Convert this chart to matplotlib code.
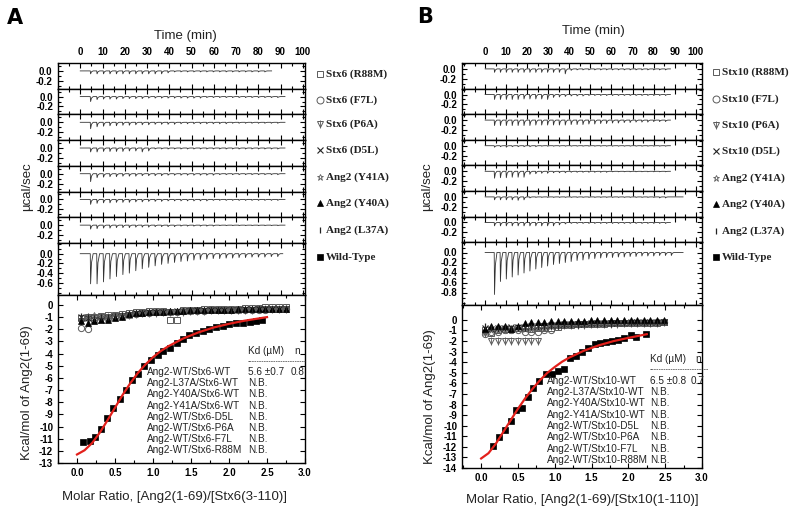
import matplotlib
matplotlib.use('Agg')
from matplotlib import pyplot as plt
from matplotlib.ticker import MultipleLocator

plt.rcParams['font.family'] = ['Liberation Sans', 'DejaVu Sans']
plt.rcParams['axes.unicode_minus'] = False

W, H = 800, 514

# ---------------- raw thermograms: peak depth of each injection (ucal/sec) ----------------
# panel A (Stx6), one list per strip, top to bottom
a_peaks = [
    [-0.06, -0.06, -0.06, -0.06, -0.06, -0.06, -0.06, -0.06, -0.06, -0.06, -0.06, -0.06, -0.04, -0.02,
     -0.02, -0.02, -0.02, -0.02, -0.02, -0.02, -0.02, -0.02, -0.02, -0.02, -0.02, -0.02, -0.02, -0.02],
    [-0.1, -0.06, -0.05, -0.05, -0.05, -0.04, -0.04, -0.04, -0.04, -0.03, -0.03, -0.03, -0.03, -0.03,
     -0.03, -0.03, -0.03, -0.03, -0.02, -0.02, -0.02, -0.02, -0.02, -0.02, -0.02, -0.02, -0.02, -0.02, -0.02, -0.02],
    [-0.13, -0.09, -0.08, -0.07, -0.07, -0.06, -0.06, -0.05, -0.05, -0.05, -0.04, -0.04, -0.04, -0.04,
     -0.03, -0.03, -0.03, -0.03, -0.03, -0.03, -0.03, -0.03, -0.02, -0.02, -0.02, -0.02, -0.02, -0.02, -0.02, -0.02],
    [-0.08, -0.08, -0.07, -0.07, -0.07, -0.07, -0.06, -0.06, -0.08, -0.06, -0.02, -0.02, -0.02, -0.02,
     -0.02, -0.02, -0.02, -0.02, -0.02, -0.02, -0.02, -0.02, -0.02, -0.02, -0.02, -0.02, -0.02, -0.02, -0.02, -0.02],
    [-0.16, -0.08, -0.07, -0.06, -0.06, -0.05, -0.05, -0.05, -0.04, -0.04, -0.04, -0.04, -0.03, -0.03,
     -0.03, -0.03, -0.03, -0.03, -0.03, -0.03, -0.02, -0.02, -0.02, -0.02, -0.02, -0.02, -0.02, -0.02, -0.02, -0.02],
    [-0.1, -0.08, -0.07, -0.07, -0.06, -0.06, -0.06, -0.05, -0.05, -0.04, -0.04, -0.04, -0.03, -0.03,
     -0.03, -0.03, -0.03, -0.03, -0.03, -0.02, -0.02, -0.02, -0.02, -0.02, -0.02, -0.02, -0.02, -0.02, -0.02, -0.02],
    [-0.08, -0.07, -0.06, -0.06, -0.05, -0.05, -0.05, -0.04, -0.04, -0.04, -0.03, -0.03, -0.03, -0.03,
     -0.02, -0.02, -0.02, -0.02, -0.02, -0.02, -0.01, -0.01, -0.01, -0.01, -0.01, -0.01, -0.01, -0.01, -0.01, -0.01],
    [-0.62, -0.62, -0.58, -0.52, -0.47, -0.43, -0.40, -0.35, -0.31, -0.28, -0.25, -0.22, -0.20, -0.18,
     -0.16, -0.15, -0.13, -0.12, -0.11, -0.10, -0.10, -0.09, -0.09, -0.08, -0.08, -0.07, -0.07, -0.07, -0.06, -0.06],
]
a_end = [86, 92, 92, 92, 92, 92, 92, 91]

# panel B (Stx10)
b_peaks = [
    [-0.07, -0.07, -0.07, -0.07, -0.07, -0.07, -0.07, -0.07, -0.07, -0.07, -0.07, -0.07, -0.1, -0.03,
     -0.02, -0.02, -0.02, -0.02, -0.02, -0.02, -0.02, -0.02, -0.02, -0.02, -0.02, -0.02, -0.02, -0.02, -0.02, -0.02],
    [-0.1, -0.1, -0.1, -0.1, -0.1, -0.09, -0.09, -0.09, -0.09, -0.1, -0.06, -0.05, -0.04, -0.03,
     -0.03, -0.03, -0.02, -0.02, -0.02, -0.02, -0.02, -0.02, -0.02, -0.02, -0.02, -0.02, -0.02, -0.02, -0.02, -0.02],
    [-0.11, -0.11, -0.11, -0.11, -0.11, -0.11, -0.11, -0.1, -0.1, -0.1, -0.1, -0.1, -0.1, -0.09,
     -0.09, -0.09, -0.08, -0.08, -0.07, -0.07, -0.06, -0.06, -0.05, -0.05, -0.04, -0.04, -0.04, -0.03, -0.03, -0.03],
    [-0.03, -0.02, -0.03, -0.02, -0.02, -0.02, -0.02, -0.02, -0.01, -0.01, -0.01, -0.01, -0.01, -0.01,
     -0.01, -0.01, -0.01, -0.01, -0.01, -0.01, -0.01, -0.01, -0.01, -0.01, -0.01, -0.01, -0.01, -0.01, -0.01, -0.01],
    [-0.14, -0.13, -0.13, -0.12, -0.12, -0.12, -0.06, -0.05, -0.04, -0.04, -0.03, -0.03, -0.03, -0.02,
     -0.02, -0.02, -0.02, -0.02, -0.02, -0.02, -0.01, -0.01, -0.01, -0.01, -0.01, -0.01, -0.01, -0.01, -0.01, -0.01],
    [-0.06, -0.06, -0.06, -0.06, -0.07, -0.06, -0.02, -0.01, -0.01, -0.01, -0.01, -0.01, -0.01, -0.01,
     -0.01, -0.01, -0.01, -0.01, -0.01, -0.01, -0.01, -0.01, -0.01, -0.01, -0.01, -0.01, -0.01, -0.01, -0.02, -0.02],
    [-0.07, -0.07, -0.07, -0.07, -0.07, -0.07, -0.07, -0.07, -0.07, -0.07, -0.07, -0.05, -0.03, -0.02,
     -0.02, -0.02, -0.02, -0.02, -0.02, -0.02, -0.02, -0.02, -0.02, -0.02, -0.02, -0.02, -0.02, -0.02, -0.02, -0.02],
    [-0.84, -0.58, -0.53, -0.49, -0.45, -0.41, -0.37, -0.33, -0.30, -0.27, -0.24, -0.22, -0.20, -0.18, -0.16,
     -0.15, -0.13, -0.12, -0.11, -0.10, -0.10, -0.09, -0.09, -0.08, -0.08, -0.07, -0.07, -0.07, -0.06, -0.06, -0.06],
]
b_end = [88, 88, 88, 88, 88, 94, 88, 94]

# ---------------- integrated heats ----------------
a_wt_x = [0.08, 0.17, 0.24, 0.32, 0.39, 0.48, 0.56, 0.65, 0.72, 0.80, 0.88, 0.97, 1.06, 1.13, 1.22,
          1.31, 1.40, 1.48, 1.57, 1.66, 1.74, 1.83, 1.92, 2.00, 2.09, 2.18, 2.27, 2.35, 2.44]
a_wt_y = [-11.3, -11.2, -10.9, -10.2, -9.3, -8.5, -7.7, -7.0, -6.2, -5.7, -5.0, -4.5, -4.1, -3.8, -3.5,
          -3.1, -2.8, -2.5, -2.3, -2.15, -2.0, -1.85, -1.7, -1.6, -1.5, -1.45, -1.4, -1.35, -1.25]
a_fit_x = [0.0, 0.1, 0.2, 0.3, 0.4, 0.5, 0.6, 0.7, 0.8, 0.9, 1.0, 1.1, 1.2, 1.4, 1.6, 1.8, 2.0, 2.2, 2.5]
a_fit_y = [-12.3, -11.95, -11.35, -10.5, -9.5, -8.45, -7.4, -6.45, -5.6, -4.9, -4.3, -3.8, -3.4,
           -2.75, -2.25, -1.85, -1.55, -1.3, -1.0]

a_mut_x = [0.05, 0.14, 0.23, 0.32, 0.41, 0.50, 0.59, 0.68, 0.77, 0.86, 0.95, 1.04, 1.13, 1.22, 1.31, 1.40,
           1.49, 1.58, 1.67, 1.76, 1.85, 1.94, 2.03, 2.12, 2.21, 2.30, 2.39, 2.48, 2.57, 2.66, 2.75]
a_r88m = [-1.1, -1.0, -0.95, -0.9, -0.85, -0.8, -0.75, -0.65, -0.6, -0.55, -0.5, -0.5, -0.5, -1.25, -1.25, -0.45,
          -0.4, -0.4, -0.35, -0.35, -0.3, -0.3, -0.3, -0.3, -0.25, -0.25, -0.25, -0.2, -0.2, -0.2, -0.2]
a_f7l = [-1.9, -2.0, -1.2, -1.1, -1.05, -0.95, -0.9, -0.8, -0.75, -0.7, -0.65, -0.6, -0.6, -0.55, -0.55, -0.5,
         -0.5, -0.5, -0.5, -0.45, -0.45, -0.45, -0.45, -0.45, -0.4, -0.4, -0.4, -0.4, -0.35, -0.35, -0.35]
a_p6a = [-1.35, -1.15, -1.1, -1.0, -1.0, -0.9, -0.9, -0.8, -0.75, -0.7, -0.7, -0.65, -0.6, -0.6, -0.55, -0.55,
         -0.5, -0.5, -0.5, -0.45, -0.45, -0.45, -0.4, -0.4, -0.4, -0.4, -0.35, -0.35, -0.35, -0.3, -0.3]
a_d5l = [-1.0, -1.1, -1.2, -1.2, -1.1, -1.0, -0.9, -0.8, -0.7, -0.65, -0.6, -0.6, -0.55, -0.55, -0.5, -0.5,
         -0.5, -0.45, -0.45, -0.45, -0.4, -0.4, -0.4, -0.4, -0.35, -0.35, -0.35, -0.35, -0.3, -0.3, -0.3]
a_y41a = [-1.2, -0.9, -0.85, -1.0, -0.95, -0.9, -0.85, -0.75, -0.7, -0.65, -0.6, -0.55, -0.55, -0.5, -0.5, -0.45,
          -0.45, -0.45, -0.4, -0.4, -0.4, -0.4, -0.35, -0.35, -0.35, -0.35, -0.3, -0.3, -0.3, -0.3, -0.25]
a_y40a = [-1.3, -1.45, -1.3, -1.25, -1.2, -1.1, -0.95, -0.75, -0.7, -0.65, -0.6, -0.55, -0.55, -0.5, -0.5, -0.5,
          -0.45, -0.45, -0.45, -0.4, -0.4, -0.4, -0.4, -0.35, -0.35, -0.35, -0.35, -0.3, -0.3, -0.3, -0.3]
a_l37a = [-0.9, -1.0, -1.05, -1.0, -0.95, -0.9, -0.85, -0.75, -0.7, -0.65, -0.6, -0.6, -0.55, -0.55, -0.5, -0.5,
          -0.5, -0.45, -0.45, -0.45, -0.45, -0.4, -0.4, -0.4, -0.4, -0.35, -0.35, -0.35, -0.35, -0.3, -0.3]

b_wt_x = [0.16, 0.24, 0.32, 0.40, 0.48, 0.55, 0.64, 0.71, 0.79, 0.88, 0.96, 1.04, 1.12, 1.21, 1.29,
          1.37, 1.45, 1.54, 1.62, 1.70, 1.78, 1.86, 1.94, 2.03, 2.11, 2.24]
b_wt_y = [-11.9, -11.1, -10.4, -9.6, -8.55, -8.3, -7.3, -6.45, -5.8, -5.1, -5.1, -4.8, -4.6, -3.6, -3.4,
          -3.0, -2.7, -2.3, -2.2, -2.05, -1.95, -1.9, -1.75, -1.4, -1.6, -1.3]
b_fit_x = [0.0, 0.1, 0.2, 0.3, 0.4, 0.5, 0.6, 0.7, 0.8, 0.9, 1.0, 1.1, 1.2, 1.4, 1.6, 1.8, 2.0, 2.25]
b_fit_y = [-13.1, -12.6, -11.7, -10.6, -9.5, -8.4, -7.4, -6.5, -5.7, -5.0, -4.45, -3.95, -3.55,
           -2.9, -2.4, -2.0, -1.7, -1.35]

b_mut_x = [0.05, 0.14, 0.23, 0.32, 0.41, 0.50, 0.59, 0.68, 0.77, 0.86, 0.95, 1.04, 1.13, 1.22, 1.31, 1.40,
           1.49, 1.58, 1.67, 1.76, 1.85, 1.94, 2.03, 2.12, 2.21, 2.30, 2.39, 2.48]
b_r88m = [-1.0, -1.2, -1.0, -0.9, -0.9, -0.8, -0.8, -0.85, -0.8, -0.8, -0.75, -0.7, -0.5, -0.45, -0.4, -0.4,
          -0.35, -0.35, -0.35, -0.3, -0.3, -0.3, -0.3, -0.25, -0.25, -0.25, -0.25, -0.2]
b_f7l = [-1.3, -1.1, -1.1, -1.0, -1.0, -1.0, -1.1, -1.1, -1.1, -1.0, -1.0, -0.5, -0.4, -0.4, -0.35, -0.35,
         -0.35, -0.3, -0.3, -0.3, -0.3, -0.3, -0.25, -0.25, -0.25, -0.25, -0.2, -0.2]
b_p6a = [-1.2, -1.95, -1.95, -1.95, -1.95, -1.95, -1.95, -1.95, -1.95, -0.6, -0.55, -0.55, -0.5, -0.5, -0.45,
         -0.45, -0.4, -0.4, -0.35, -0.35, -0.35, -0.3, -0.3, -0.3, -0.25, -0.25, -0.25, -0.2]
b_d5l = [-0.8, -0.9, -0.8, -0.75, -0.7, -0.7, -0.65, -0.6, -0.6, -0.55, -0.5, -0.45, -0.4, -0.4, -0.35, -0.35,
         -0.3, -0.3, -0.3, -0.25, -0.25, -0.25, -0.2, -0.2, -0.2, -0.2, -0.15, -0.15]
b_y41a = [-1.1, -1.0, -1.0, -0.95, -0.95, -0.9, -0.9, -0.85, -0.8, -0.8, -0.6, -0.5, -0.45, -0.4, -0.4, -0.35,
          -0.35, -0.3, -0.3, -0.3, -0.3, -0.25, -0.25, -0.25, -0.25, -0.2, -0.2, -0.2]
b_y40a = [-0.9, -0.6, -0.6, -0.55, -0.9, -0.6, -0.3, -0.15, -0.15, -0.15, -0.1, -0.1, -0.1, -0.1, -0.1, -0.1,
          -0.05, -0.05, -0.05, -0.05, -0.05, -0.05, -0.05, 0.0, 0.0, 0.0, 0.0, 0.0]
b_l37a = [-0.6, -0.8, -0.85, -0.8, -0.8, -0.75, -0.75, -0.7, -0.7, -0.65, -0.6, -0.55, -0.5, -0.45, -0.45, -0.4,
          -0.4, -0.35, -0.35, -0.35, -0.3, -0.3, -0.3, -0.25, -0.25, -0.25, -0.25, -0.2]

# ---------------- text ----------------
a_legend = ['Stx6 (R88M)', 'Stx6 (F7L)', 'Stx6 (P6A)', 'Stx6 (D5L)',
            'Ang2 (Y41A)', 'Ang2 (Y40A)', 'Ang2 (L37A)', 'Wild-Type']
b_legend = ['Stx10 (R88M)', 'Stx10 (F7L)', 'Stx10 (P6A)', 'Stx10 (D5L)',
            'Ang2 (Y41A)', 'Ang2 (Y40A)', 'Ang2 (L37A)', 'Wild-Type']
a_names = ['Ang2-WT/Stx6-WT', 'Ang2-L37A/Stx6-WT', 'Ang2-Y40A/Stx6-WT', 'Ang2-Y41A/Stx6-WT',
           'Ang2-WT/Stx6-D5L', 'Ang2-WT/Stx6-P6A', 'Ang2-WT/Stx6-F7L', 'Ang2-WT/Stx6-R88M']
b_names = ['Ang2-WT/Stx10-WT', 'Ang2-L37A/Stx10-WT', 'Ang2-Y40A/Stx10-WT', 'Ang2-Y41A/Stx10-WT',
           'Ang2-WT/Stx10-D5L', 'Ang2-WT/Stx10-P6A', 'Ang2-WT/Stx10-F7L', 'Ang2-WT/Stx10-R88M']
a_kd = ['5.6 \u00b10.7', 'N.B.', 'N.B.', 'N.B.', 'N.B.', 'N.B.', 'N.B.', 'N.B.']
b_kd = ['6.5 \u00b10.8', 'N.B.', 'N.B.', 'N.B.', 'N.B.', 'N.B.', 'N.B.', 'N.B.']
a_n, b_n = '0.8', '0.7'

a_wt_ticks = [0.0, -0.2, -0.4, -0.6]
b_wt_ticks = [0.0, -0.2, -0.4, -0.6, -0.8]
small_ticks = [0.0, -0.2]
a_low_ticks = list(range(0, -14, -1))
b_low_ticks = list(range(0, -15, -1))

GRAY = '#5a5a5a'
# marker styles in legend / strip order: R88M, F7L, P6A, D5L, Y41A, Y40A, L37A, WT
styles = [
    dict(marker='s', mfc='none', mec=GRAY, mew=0.7),
    dict(marker='o', mfc='none', mec=GRAY, mew=0.7),
    dict(marker='v', mfc='none', mec=GRAY, mew=0.7),
    dict(marker='x', mfc='none', mec='#222222', mew=0.8),
    dict(marker='*', mfc='none', mec=GRAY, mew=0.6),
    dict(marker='^', mfc='black', mec='black', mew=0.5),
    dict(marker='|', mfc='none', mec='#222222', mew=0.9),
    dict(marker='s', mfc='black', mec='black', mew=0.5),
]

TICKFONT = dict(family='Liberation Sans', weight='bold', size=7)


def ax_px(fig, left, right, top, bottom):
    return fig.add_axes([left / W, 1 - bottom / H, (right - left) / W, (bottom - top) / H])


def trace(peaks, t_end, t0, dt):
    t, y = [0.0], [0.0]
    for i, p in enumerate(peaks):
        ti = t0 + i * dt
        t += [ti, ti + 0.15, ti + 0.55, ti + 1.3]
        y += [0.0, p, p * 0.3, 0.0]
    t.append(t_end)
    y.append(0.0)
    return t, y


def style_ticks(ax):
    ax.tick_params(which='both', direction='in', top=True, right=True, width=0.8)
    ax.tick_params(which='major', length=3.5)
    ax.tick_params(which='minor', length=2)
    for lab in ax.get_xticklabels() + ax.get_yticklabels():
        lab.set_fontproperties(TICKFONT)
    for s in ax.spines.values():
        s.set_linewidth(1.0)


def panel(fig, left, right, tops, wt_bottom, low_bottom, xlim_t, ylim_small, ylim_wt, wt_ticks,
          peaks, ends, t0, dt, xlim_low, ylim_low, low_ticks,
          wt_x, wt_y, fit_x, fit_y, mut_x, muts, names, kd, nval, tab):
    bottoms = tops[1:] + [wt_bottom]
    for i in range(8):
        ax = ax_px(fig, left, right, tops[i], bottoms[i])
        t, y = trace(peaks[i], ends[i], t0, dt)
        ax.plot(t, y, color='#333333', lw=0.6)
        ax.set_xlim(*xlim_t)
        ax.xaxis.set_minor_locator(MultipleLocator(5))
        ax.set_xticks(range(0, 101, 10))
        if i < 7:
            ax.set_ylim(*ylim_small)
            ax.set_yticks(small_ticks)
        else:
            ax.set_ylim(*ylim_wt)
            ax.set_yticks(wt_ticks)
        ax.yaxis.set_minor_locator(MultipleLocator(0.1))
        ax.yaxis.set_major_formatter(plt.FormatStrFormatter('%.1f'))
        if i == 0:
            ax.tick_params(labeltop=True, labelbottom=False, pad=4)
        else:
            ax.tick_params(labelbottom=False)
        style_ticks(ax)

    # integrated heats
    ax = ax_px(fig, left, right, wt_bottom, low_bottom)
    for ys, st in zip(muts, styles[:7]):
        ax.plot(mut_x, ys, ls='none', ms=4.5, **st)
        if st['marker'] == 'v':
            ax.plot(mut_x, ys, ls='none', marker='|', ms=5.5, mec=GRAY, mew=0.6)
    ax.plot(wt_x, wt_y, ls='none', ms=4.5, **styles[7])
    ax.plot(fit_x, fit_y, color='#e3201b', lw=1.6, zorder=5)
    ax.set_xlim(*xlim_low)
    ax.set_ylim(*ylim_low)
    ax.xaxis.set_major_locator(MultipleLocator(0.5))
    ax.xaxis.set_minor_locator(MultipleLocator(0.25))
    ax.set_yticks(low_ticks)
    ax.xaxis.set_major_formatter(plt.FormatStrFormatter('%.1f'))
    style_ticks(ax)

    # table
    tx, kx, nx, ky, dy, row0, row_dy = tab
    tf = dict(family='Liberation Sans', size=7.2, color='#222222', va='center')
    ax.text(kx, ky, 'Kd (\u00b5M)', **tf)
    ax.text(nx, ky, 'n', **tf)
    ax.text(kx, dy, '-' * 25, family='Liberation Sans', size=5, va='center', color='#222222')
    for j in range(8):
        ax.text(tx, row0 - j * row_dy, names[j], **tf)
        ax.text(kx, row0 - j * row_dy, kd[j], **tf)
    ax.text(nx - 0.06, row0, nval, **tf)
    return ax


fig = plt.figure(figsize=(8, 5.14), dpi=100)

a_tops = [63, 88.7, 114.4, 140.1, 165.8, 191.5, 217.2, 243]
panel(fig, 58, 305, a_tops, 295, 463, (-10, 101), (-0.36, 0.16), (-0.85, 0.22), a_wt_ticks,
      a_peaks, a_end, 4.5, 2.9, (-0.25, 3.0), (-13, 0.82), a_low_ticks,
      a_wt_x, a_wt_y, a_fit_x, a_fit_y, a_mut_x,
      [a_r88m, a_f7l, a_p6a, a_d5l, a_y41a, a_y40a, a_l37a], a_names, a_kd, a_n,
      (0.916, 2.246, 2.865, -3.77, -4.64, -5.52, 0.92))

b_tops = [63, 88.6, 114.2, 139.8, 165.4, 191, 216.6, 242]
panel(fig, 462, 702, b_tops, 305, 468, (-11, 103), (-0.40, 0.12), (-1.05, 0.21), b_wt_ticks,
      b_peaks, b_end, 4.3, 2.8, (-0.26, 3.0), (-14, 1.41), b_low_ticks,
      b_wt_x, b_wt_y, b_fit_x, b_fit_y, b_mut_x,
      [b_r88m, b_f7l, b_p6a, b_d5l, b_y41a, b_y40a, b_l37a], b_names, b_kd, b_n,
      (0.89, 2.29, 2.91, -3.68, -4.72, -5.75, 1.07))

# overlay in pixel coordinates for labels and legends
ov = fig.add_axes([0, 0, 1, 1])
ov.set_xlim(0, W)
ov.set_ylim(H, 0)
ov.axis('off')

ov.text(15, 18, 'A', fontsize=15, fontweight='bold', ha='center', va='center', family='DejaVu Sans')
ov.text(425, 17, 'B', fontsize=15, fontweight='bold', ha='center', va='center', family='DejaVu Sans')

lab = dict(family='Liberation Sans', size=9.5, ha='center', va='center', color='#222222')
ov.text(185, 36, 'Time (min)', **lab)
ov.text(593, 31, 'Time (min)', **lab)
ov.text(27, 187, '\u00b5cal/sec', rotation=90, **lab)
ov.text(427, 187, '\u00b5cal/sec', rotation=90, **lab)
ov.text(27, 393, 'Kcal/mol of Ang2(1-69)', rotation=90, **lab)
ov.text(430, 397, 'Kcal/mol of Ang2(1-69)', rotation=90, **lab)
ov.text(174, 497, 'Molar Ratio, [Ang2(1-69)/[Stx6(3-110)]', **lab)
ov.text(582, 500, 'Molar Ratio, [Ang2(1-69)/[Stx10(1-110)]', **lab)

a_leg_y = [74, 100, 124, 150, 177, 203, 230, 257]
b_leg_y = [72, 99, 125, 151, 178, 204, 231, 257]
for labels, ys, mx in [(a_legend, a_leg_y, 320), (b_legend, b_leg_y, 716)]:
    for j in range(8):
        ov.plot([mx], [ys[j]], ls='none', ms=5, **styles[j])
        if styles[j]['marker'] == 'v':
            ov.plot([mx], [ys[j]], ls='none', marker='|', ms=6, mec=GRAY, mew=0.6)
        ov.text(mx + 6, ys[j], labels[j], family='Liberation Serif', fontweight='bold',
                size=8, va='center', color='#222222')

fig.savefig('out.png', dpi=100)
